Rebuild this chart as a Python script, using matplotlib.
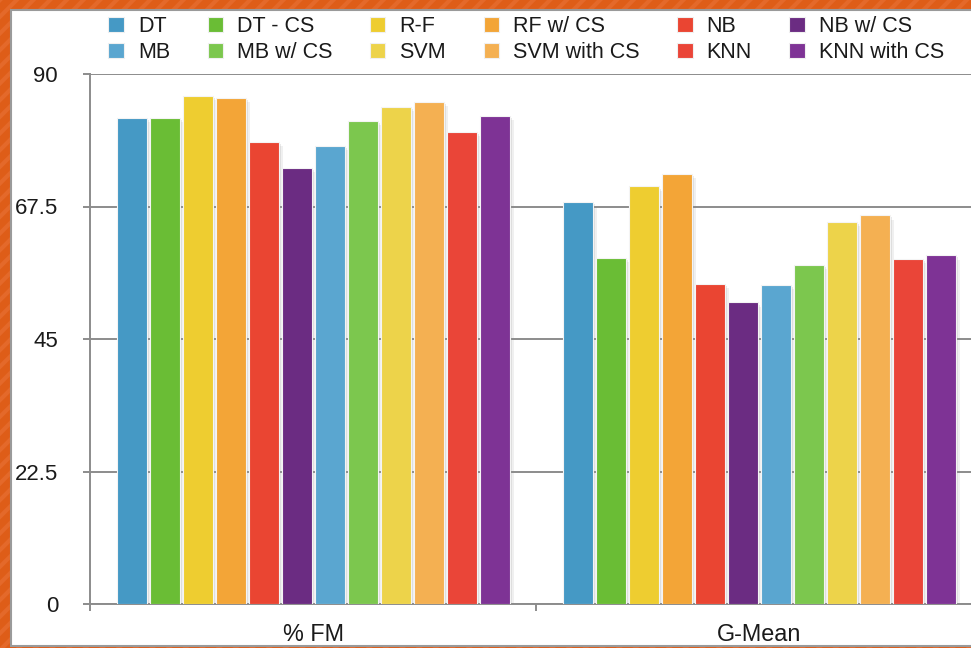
import matplotlib
matplotlib.use("Agg")
import matplotlib.pyplot as plt
import matplotlib.patheffects as pe
from matplotlib.patches import Rectangle, Patch

plt.rcParams['font.family'] = ['Liberation Sans', 'DejaVu Sans']
plt.rcParams['hatch.linewidth'] = 3.0

# metric groups along the x axis
metrics = ['% FM', 'G-Mean']

# classifiers, in plotting order
models = ['DT', 'DT - CS', 'R-F', 'RF w/ CS', 'NB', 'NB w/ CS',
          'MB', 'MB w/ CS', 'SVM', 'SVM with CS', 'KNN', 'KNN with CS']
colors = ['#4599C5', '#6ABD35', '#EECD30', '#F3A537', '#EA4532', '#6B2C82',
          '#5AA6D0', '#7CC74E', '#EDD34A', '#F4B052', '#EA4538', '#7E3395']

fm_scores = [82.6, 82.6, 86.3, 85.9, 78.5, 74.1, 77.8, 82.1, 84.4, 85.2, 80.1, 82.9]
gmean_scores = [68.2, 58.8, 70.9, 73.0, 54.4, 51.2, 54.2, 57.6, 64.9, 66.0, 58.6, 59.2]

yticks = [0, 22.5, 45, 67.5, 90]
ytick_labels = ['0', '22.5', '45', '67.5', '90']

W, H = 971, 648
fig = plt.figure(figsize=(W / 100, H / 100), dpi=100)

# striped orange backdrop and white card
fig.patches.append(Rectangle((0, 0), 1, 1, transform=fig.transFigure,
                             facecolor='#DE5D18', edgecolor='#E4692A',
                             hatch='//', lw=0, zorder=-10))
fig.patches.append(Rectangle((11 / W, 2 / H), 1.0, (646 - 10) / H,
                             transform=fig.transFigure, facecolor='white',
                             edgecolor='#9a9a9a', lw=1.5, zorder=-9))

ax = fig.add_axes([90 / W, 1 - 604 / H, 892 / W, 530 / H])
ax.patch.set_visible(False)

slot = 33 / 446
width = 30 / 446
axis_grey = '#8c8c8c'
text_col = '#1a1a1a'

for i, (name, col) in enumerate(zip(models, colors)):
    off = (i - 5.5) * slot
    bars = ax.bar([0 + off, 1 + off], [fm_scores[i], gmean_scores[i]],
                  width=width, color=col, edgecolor='#f4f4f4', linewidth=0.8,
                  zorder=3)
    for b in bars:
        # soft-ish drop shadow: two stacked offsets
        b.set_path_effects([pe.SimplePatchShadow(offset=(3, -3),
                                                 shadow_rgbFace='#888888',
                                                 alpha=0.12),
                            pe.SimplePatchShadow(offset=(1.5, -1.5),
                                                 shadow_rgbFace='#888888',
                                                 alpha=0.18),
                            pe.Normal()])

ax.set_xlim(-0.5, 1.5)
ax.set_ylim(0, 90)
ax.set_yticks(yticks, ytick_labels)
ax.yaxis.grid(True, color=axis_grey, lw=1.4, zorder=0)
ax.set_axisbelow(True)

ax.set_xticks([0, 1], metrics)
ax.set_xticks([-0.5, 0.5, 1.5], minor=True)
ax.tick_params(axis='x', which='major', length=0, pad=14, labelsize=16.8,
               labelcolor=text_col)
ax.tick_params(axis='x', which='minor', length=5, width=1.4, color=axis_grey)
ax.tick_params(axis='y', length=5, width=1.4, color=axis_grey, pad=18,
               labelsize=16, labelcolor=text_col)

for side in ('top', 'right'):
    ax.spines[side].set_visible(False)
for side in ('left', 'bottom'):
    ax.spines[side].set_color(axis_grey)
    ax.spines[side].set_linewidth(1.4)

# legend reads across rows, matplotlib fills down columns
order = [0, 6, 1, 7, 2, 8, 3, 9, 4, 10, 5, 11]
legend_handles = [Patch(facecolor=colors[k], edgecolor='#f0f0f0', lw=0.8)
                  for k in order]
leg = fig.legend(legend_handles, [models[k] for k in order],
                 ncol=6, loc='center', bbox_to_anchor=(0.542, 0.939),
                 frameon=False, fontsize=15.5, handlelength=0.72,
                 handleheight=0.72, handletextpad=0.65, columnspacing=1.74,
                 labelspacing=0.22)
for t in leg.get_texts():
    t.set_color(text_col)

fig.savefig('out.png', dpi=100)
